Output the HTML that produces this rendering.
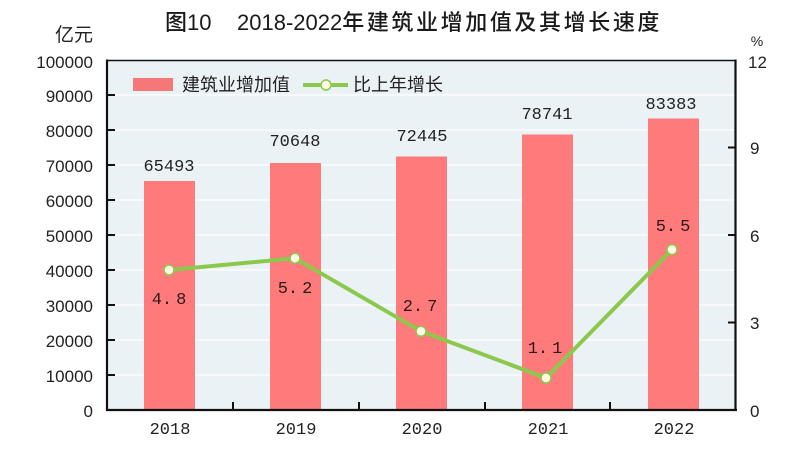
<!DOCTYPE html>
<html><head><meta charset="utf-8"><style>
html,body{margin:0;padding:0;background:#fff;}
svg{display:block;}
</style></head><body>
<svg width="800" height="468" viewBox="0 0 800 468" xmlns="http://www.w3.org/2000/svg">
<rect x="0" y="0" width="800" height="468" fill="#fff"/>
<!-- title -->
<text x="165" y="30" font-family="'Liberation Sans','Noto Sans CJK SC',sans-serif" font-size="22" font-weight="500" fill="#1a1a1a">图10</text>
<text x="237" y="30" font-family="'Liberation Sans','Noto Sans CJK SC',sans-serif" font-size="22" font-weight="500" fill="#1a1a1a">2018-2022<tspan letter-spacing="2.6">年建筑业增加值及其增长速度</tspan></text>
<!-- unit labels -->
<text x="93" y="41" text-anchor="end" font-family="'Liberation Sans','Noto Sans CJK SC',sans-serif" font-size="19" fill="#222">亿元</text>
<text x="757" y="46" text-anchor="middle" font-family="'Liberation Sans',sans-serif" font-size="14" fill="#222">%</text>
<!-- plot background -->
<rect x="107" y="60" width="629" height="350" fill="#eaf2f6"/>
<g stroke="#ffffff" stroke-width="1.2">
<line x1="107" y1="95" x2="736" y2="95"/>
<line x1="107" y1="130" x2="736" y2="130"/>
<line x1="107" y1="165" x2="736" y2="165"/>
<line x1="107" y1="200" x2="736" y2="200"/>
<line x1="107" y1="235" x2="736" y2="235"/>
<line x1="107" y1="270" x2="736" y2="270"/>
<line x1="107" y1="305" x2="736" y2="305"/>
<line x1="107" y1="340" x2="736" y2="340"/>
<line x1="107" y1="375" x2="736" y2="375"/>
</g>
<!-- bars -->
<g fill="#ff7b7b">
<rect x="144" y="181" width="51" height="229"/>
<rect x="270" y="163" width="51" height="247"/>
<rect x="396" y="156.5" width="51" height="253.5"/>
<rect x="522" y="134.5" width="51" height="275.5"/>
<rect x="648" y="118.5" width="51" height="291.5"/>
</g>
<!-- frame -->
<g stroke="#111" fill="none">
<line x1="107" y1="60.5" x2="736" y2="60.5" stroke-width="1.5"/>
<line x1="107" y1="59.5" x2="107" y2="411" stroke-width="2.2"/>
<line x1="735.5" y1="59.5" x2="735.5" y2="411" stroke-width="2.2"/>
<line x1="106" y1="410" x2="737" y2="410" stroke-width="2.2"/>
</g>
<!-- left ticks -->
<g stroke="#111" stroke-width="2">
<line x1="107" y1="95" x2="115" y2="95"/>
<line x1="107" y1="130" x2="115" y2="130"/>
<line x1="107" y1="165" x2="115" y2="165"/>
<line x1="107" y1="200" x2="115" y2="200"/>
<line x1="107" y1="235" x2="115" y2="235"/>
<line x1="107" y1="270" x2="115" y2="270"/>
<line x1="107" y1="305" x2="115" y2="305"/>
<line x1="107" y1="340" x2="115" y2="340"/>
<line x1="107" y1="375" x2="115" y2="375"/>
<!-- right ticks -->
<line x1="728" y1="147.5" x2="736" y2="147.5"/>
<line x1="728" y1="235" x2="736" y2="235"/>
<line x1="728" y1="322.5" x2="736" y2="322.5"/>
<!-- bottom ticks -->
<line x1="233" y1="402" x2="233" y2="410"/>
<line x1="359" y1="402" x2="359" y2="410"/>
<line x1="485" y1="402" x2="485" y2="410"/>
<line x1="610" y1="402" x2="610" y2="410"/>
</g>
<!-- left axis labels -->
<g font-family="'Liberation Sans',sans-serif" font-size="17" fill="#222" text-anchor="end">
<text x="93" y="68">100000</text>
<text x="93" y="102">90000</text>
<text x="93" y="137">80000</text>
<text x="93" y="172">70000</text>
<text x="93" y="207">60000</text>
<text x="93" y="242">50000</text>
<text x="93" y="277">40000</text>
<text x="93" y="312">30000</text>
<text x="93" y="347">20000</text>
<text x="93" y="382">10000</text>
<text x="93" y="417">0</text>
</g>
<!-- right axis labels -->
<g font-family="'Liberation Sans',sans-serif" font-size="17" fill="#222">
<text x="748" y="68">12</text>
<text x="750" y="154">9</text>
<text x="750" y="242">6</text>
<text x="750" y="329">3</text>
<text x="750" y="417">0</text>
</g>
<!-- x labels -->
<g font-family="'Liberation Mono',monospace" font-size="17" fill="#222" text-anchor="middle">
<text x="170" y="434">2018</text>
<text x="296" y="434">2019</text>
<text x="422" y="434">2020</text>
<text x="548" y="434">2021</text>
<text x="674" y="434">2022</text>
</g>
<!-- value labels -->
<g font-family="'Liberation Mono',monospace" font-size="17" fill="#222" text-anchor="middle">
<text x="169" y="171">65493</text>
<text x="295" y="146">70648</text>
<text x="422" y="141">72445</text>
<text x="547" y="119">78741</text>
<text x="671" y="109">83383</text>
</g>
<!-- line -->
<polyline points="169,270 295,258.3 421,331.3 546,378 672,249.6" fill="none" stroke="#8cc84b" stroke-width="4" stroke-linejoin="round"/>
<g fill="#fffbe6" stroke="#8cc84b" stroke-width="1.5">
<circle cx="169" cy="270" r="5"/>
<circle cx="295" cy="258.3" r="5"/>
<circle cx="421" cy="331.3" r="5"/>
<circle cx="546" cy="378" r="5"/>
<circle cx="672" cy="249.6" r="5"/>
</g>
<!-- line labels -->
<g font-family="'Liberation Mono',monospace" font-size="17" fill="#2a1a1a" text-anchor="middle">
<text x="169" y="304">4.<tspan dx="4">8</tspan></text>
<text x="295" y="293">5.<tspan dx="4">2</tspan></text>
<text x="420" y="311">2.<tspan dx="4">7</tspan></text>
<text x="545" y="353">1.<tspan dx="4">1</tspan></text>
<text x="673" y="231">5.<tspan dx="4">5</tspan></text>
</g>
<!-- legend -->
<rect x="133" y="78" width="40" height="13" fill="#f57777"/>
<text x="182" y="91" font-family="'Liberation Sans','Noto Sans CJK SC',sans-serif" font-size="18" fill="#222">建筑业增加值</text>
<line x1="303" y1="85" x2="348" y2="85" stroke="#8cc84b" stroke-width="4"/>
<circle cx="326" cy="85" r="5" fill="#fffbe6" stroke="#8cc84b" stroke-width="1.5"/>
<text x="353" y="91" font-family="'Liberation Sans','Noto Sans CJK SC',sans-serif" font-size="18" fill="#222">比上年增长</text>
</svg>
</body></html>
